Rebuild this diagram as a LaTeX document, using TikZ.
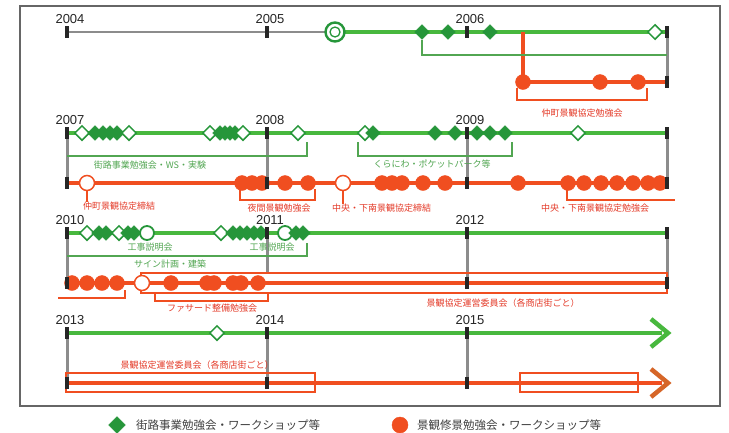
\documentclass[tikz,border=0pt]{standalone}
\usepackage{fontspec}
\setmainfont{Liberation Sans}
\newfontfamily\jp{Noto Sans CJK JP}
\usetikzlibrary{shapes.geometric}
\definecolor{gl}{RGB}{72,184,62}
\definecolor{gd}{RGB}{38,150,58}
\definecolor{rl}{RGB}{240,78,32}
\definecolor{rt}{RGB}{228,58,40}
\definecolor{gt}{RGB}{82,166,82}
\definecolor{brn}{RGB}{214,102,40}
\begin{document}
\begin{tikzpicture}[x=1pt,y=-1pt,
  gline/.style={draw=gl, line width=4},
  rline/.style={draw=rl, line width=4},
  grayline/.style={draw=black!45, line width=2},
  ytick/.style={draw=black!85, line width=3.5},
  conn/.style={draw=black!45, line width=3},
  gb/.style={draw=gt, line width=1.2},
  rb/.style={draw=rl, line width=1.2},
  fd/.style={diamond, fill=gd, draw=gd, line width=0.4, inner sep=0, minimum size=15},
  od/.style={diamond, fill=white, draw=gd, line width=1.5, inner sep=0, minimum size=15},
  fc/.style={circle, fill=rl, draw=rl, line width=0.4, inner sep=0, minimum size=15},
  oc/.style={circle, fill=white, draw=rl, line width=1.5, inner sep=0, minimum size=15},
  ogc/.style={circle, fill=white, draw=gd, line width=1.8, inner sep=0, minimum size=14},
  year/.style={font=\fontsize{13}{13}\selectfont, text=black!85, inner sep=0},
  rlab/.style={font=\jp\fontsize{9}{9}\selectfont, text=rt, inner sep=0},
  glab/.style={font=\jp\fontsize{9}{9}\selectfont, text=gt, inner sep=0},
  leg/.style={font=\jp\fontsize{11.5}{11.5}\selectfont, text=black!75, inner sep=0, anchor=west}]
\useasboundingbox (0,0) rectangle (729,432);
\fill[white] (0,0) rectangle (729,432);
\draw[draw=black!60, line width=1.2] (20,6) rectangle (720,406);

% ---------------- Row 1: 2004-2006 ----------------
\coordinate (r1a) at (67,32); \coordinate (r1b) at (335,32); \coordinate (r1c) at (667,32);
\draw[grayline] (r1a) -- (r1b);
\draw[gline] (r1b) -- (r1c);
\coordinate (r1rv) at (523,32); \coordinate (r1rs) at (523,82); \coordinate (r1re) at (667,82);
\draw[rline] (r1rv) -- (r1rs) -- (r1re);
\draw[conn] (667,36) -- (667,78);
\node[circle, draw=gd, fill=white, line width=2.4, inner sep=0, minimum size=19] (dc1) at (r1b) {};
\node[circle, draw=gd, fill=white, line width=1.3, inner sep=0, minimum size=10] (dc2) at (r1b) {};
\foreach \x [count=\i] in {422,448,490} \node[fd] (d1\i) at (\x,32) {};
\node[od] (o1a) at (655,32) {};
\coordinate (gb1e) at (667,55);
\draw[gb] (d11.south) |- (gb1e);
\foreach \x [count=\i] in {523,600,638} \node[fc] (c1\i) at (\x,82) {};
\draw[rb] (517,88) -- (517,100) -- (647,100) -- (647,88);
\node[rlab] (l1) at (582,113) {仲町景観協定勉強会};
\foreach \x/\y in {67/2004,267/2005,467/2006} {
  \draw[ytick] (\x,26) -- (\x,38);
  \node[year] (y\y) at (\x+3,19) {\y};
}
\draw[ytick] (667,26) -- (667,38);
\draw[ytick] (667,76) -- (667,88);

% ---------------- Row 2: 2007-2009 ----------------
\coordinate (g2a) at (67,133); \coordinate (g2b) at (667,133);
\coordinate (r2a) at (67,183); \coordinate (r2b) at (667,183);
\draw[gline] (g2a) -- (g2b);
\draw[rline] (r2a) -- (r2b);
\foreach \x in {67,267,467,667} \draw[conn] (\x,137) -- (\x,179);
\coordinate (gb2a) at (67,156); \coordinate (gb2b) at (307,156);
\draw[gb] (gb2a) -- (gb2b) -- (307,142);
\draw[gb] (358,142) -- (358,156) -- (512,156) -- (512,142);
\node[glab] (l2a) at (150,165) {街路事業勉強会・WS・実験};
\node[glab] (l2b) at (432,164) {くらにわ・ポケットパーク等};
\node[od] (o2a) at (82,133) {};
\foreach \x [count=\i] in {95,103,110,117} \node[fd] (d2a\i) at (\x,133) {};
\node[od] (o2b) at (129,133) {};
\node[od] (o2c) at (210,133) {};
\foreach \x [count=\i] in {220,225,230,235} \node[fd] (d2b\i) at (\x,133) {};
\node[od] (o2d) at (243,133) {};
\node[od] (o2e) at (298,133) {};
\node[od] (o2f) at (365,133) {};
\node[fd] (d2c) at (373,133) {};
\foreach \x [count=\i] in {435,455,477,490,505} \node[fd] (d2d\i) at (\x,133) {};
\node[od] (o2g) at (578,133) {};
% red
\node[oc] (rc2a) at (87,183) {};
\foreach \x [count=\i] in {242,252,262,285,308} \node[fc] (c2a\i) at (\x,183) {};
\node[oc] (rc2b) at (343,183) {};
\foreach \x [count=\i] in {382,392,402,423,445,518} \node[fc] (c2b\i) at (\x,183) {};
\foreach \x [count=\i] in {568,584,601,617,633,648,660} \node[fc] (c2c\i) at (\x,183) {};
\node[rlab, anchor=west] (l2c) at (83,206) {仲町景観協定締結};
\draw[rb] (rc2a.south) -- (rc2a |- l2c.north);
\draw[rb] (240,189) -- (240,200) -- (315,200) -- (315,189);
\node[rlab] (l2d) at (279,208) {夜間景観勉強会};
\node[rlab, anchor=west] (l2e) at (332,208) {中央・下南景観協定締結};
\draw[rb] (rc2b.south) -- (rc2b |- l2e.north);
\draw[rb] (567,189) -- (567,200) -- (675,200);
\node[rlab] (l2f) at (595,208) {中央・下南景観協定勉強会};
\foreach \x/\y in {67/2007,267/2008,467/2009} \node[year] (y\y) at (\x+3,120) {\y};
\foreach \x in {67,267,467,667} {
  \draw[ytick] (\x,127) -- (\x,139);
  \draw[ytick] (\x,177) -- (\x,189);
}

% ---------------- Row 3: 2010-2012 ----------------
\coordinate (g3a) at (67,233); \coordinate (g3b) at (667,233);
\coordinate (r3a) at (67,283); \coordinate (r3b) at (667,283);
\draw[gline] (g3a) -- (g3b);
\draw[rline] (r3a) -- (r3b);
\foreach \x in {67,467,667} \draw[conn] (\x,237) -- (\x,279);
\draw[conn] (267,237) -- (267,273);
\draw[rb] (141,273) rectangle (667,293);
\coordinate (gb3a) at (67,256); \coordinate (gb3b) at (307,256);
\draw[gb] (gb3a) -- (gb3b) -- (307,243);
\node[glab] (l3a) at (150,247) {工事説明会};
\node[glab] (l3b) at (272,247) {工事説明会};
\node[glab] (l3c) at (170,264) {サイン計画・建築};
\node[od] (o3a) at (87,233) {};
\foreach \x [count=\i] in {99,106} \node[fd] (d3a\i) at (\x,233) {};
\node[od] (o3b) at (119,233) {};
\foreach \x [count=\i] in {128,134} \node[fd] (d3b\i) at (\x,233) {};
\node[ogc] (gc3a) at (147,233) {};
\node[od] (o3c) at (221,233) {};
\foreach \x [count=\i] in {233,240,247,254,261} \node[fd] (d3c\i) at (\x,233) {};
\node[ogc] (gc3b) at (285,233) {};
\foreach \x [count=\i] in {296,303} \node[fd] (d3d\i) at (\x,233) {};
% red
\foreach \x [count=\i] in {72,87,102,117} \node[fc] (c3a\i) at (\x,283) {};
\node[oc] (rc3a) at (142,283) {};
\foreach \x [count=\i] in {171,207,214,233,241,258} \node[fc] (c3b\i) at (\x,283) {};
\draw[rb] (58,298) -- (125,298) -- (125,290);
\draw[rb] (155,293) -- (155,301) -- (268,301) -- (268,293);
\node[rlab] (l3d) at (212,308) {ファサード整備勉強会};
\node[rlab] (l3e) at (503,303) {景観協定運営委員会（各商店街ごと）};
\foreach \x/\y in {67/2010,267/2011,467/2012} \node[year] (y\y) at (\x+3,220) {\y};
\foreach \x in {67,267,467,667} \draw[ytick] (\x,227) -- (\x,239);
\foreach \x in {67,467,667} \draw[ytick] (\x,277) -- (\x,289);

% ---------------- Row 4: 2013-2015 ----------------
\coordinate (g4a) at (67,333); \coordinate (g4b) at (662,333); \coordinate (g4e) at (668,333);
\coordinate (r4a) at (67,383); \coordinate (r4b) at (662,383); \coordinate (r4e) at (668,383);
\draw[gline] (g4a) -- (g4b);
\draw[rline] (r4a) -- (r4b);
\draw[draw=gl, line width=4.5, line join=miter] (g4e) ++(-17,-14) -- (g4e) -- ++(-17,14);
\draw[draw=brn, line width=4.5, line join=miter] (r4e) ++(-17,-14) -- (r4e) -- ++(-17,14);
\foreach \x in {67,267,467} \draw[conn] (\x,337) -- (\x,379);
\node[od] (o4a) at (217,333) {};
\draw[rb] (66,373) rectangle (315,392);
\draw[rb] (520,373) rectangle (638,392);
\node[rlab] (l4a) at (197,365) {景観協定運営委員会（各商店街ごと）};
\foreach \x/\y in {67/2013,267/2014,467/2015} \node[year] (y\y) at (\x+3,320) {\y};
\foreach \x in {67,267,467} {
  \draw[ytick] (\x,327) -- (\x,339);
  \draw[ytick] (\x,377) -- (\x,389);
}

% ---------------- Legend ----------------
\node[fd, minimum size=17] (legd) at (117,425) {};
\node[leg] (legdt) at (136,425) {街路事業勉強会・ワークショップ等};
\node[fc, minimum size=16] (legc) at (400,425) {};
\node[leg] (legct) at (417,425) {景観修景勉強会・ワークショップ等};
\end{tikzpicture}
\end{document}
